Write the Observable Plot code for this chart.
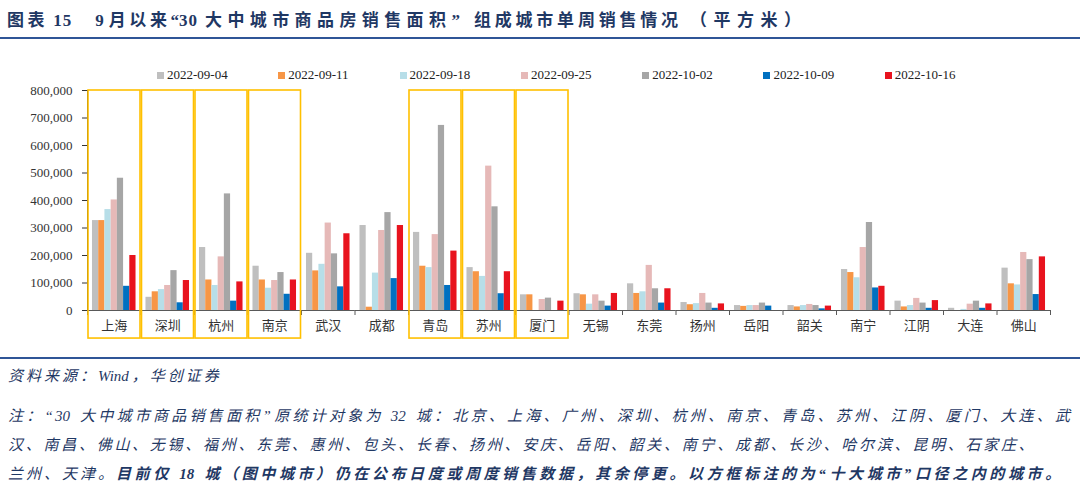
<!DOCTYPE html>
<html><head><meta charset="utf-8">
<script src="https://cdn.jsdelivr.net/npm/d3@7"></script>
<script src="https://cdn.jsdelivr.net/npm/@observablehq/plot@0.6"></script>
<style>
body{margin:0;background:#fff;width:1080px;height:498px;overflow:hidden;position:relative;font-family:"Liberation Serif","Noto Sans CJK SC",serif;}
#title{position:absolute;left:7px;top:6px;font-size:17px;font-weight:bold;color:#1F3864;white-space:nowrap;letter-spacing:3.6px}
.rule{position:absolute;left:0;width:1080px;height:2px;background:#2F5597}
#chart{position:absolute;left:0;top:40px}
#legend{position:absolute;left:157px;top:67px;display:flex}
.item{width:121.3px;display:flex;align-items:center;font-size:13px;color:#222;white-space:nowrap}
.sw{width:7px;height:7px;margin-right:3px;flex:none}
.note{position:absolute;left:8px;font-style:italic;color:#1F3864;font-size:15px;letter-spacing:3px;white-space:nowrap;line-height:20px}
.lat{letter-spacing:0;margin-right:3px}
</style></head>
<body>
<div id="title">图表<span style="margin-left:5px;letter-spacing:1px;margin-right:5px">15</span><span style="margin-left:18px;letter-spacing:0;margin-right:5px">9</span>月以来<span style="letter-spacing:0">“</span><span style="letter-spacing:1px;margin-right:7px">30</span><span style="letter-spacing:5.4px">大中城市商品房销售面积</span><span style="letter-spacing:0;margin-right:14px">”</span><span style="letter-spacing:3.8px">组成城市单周销售情况</span><span style="margin-left:8px;letter-spacing:6.5px">（平方米）</span></div>
<div class="rule" style="top:37px"></div>
<div id="chart"></div>
<div id="legend"></div>
<div class="rule" style="top:357px"></div>
<div class="note" style="top:366px">资料来源：<span class="lat">Wind</span>，华创证券</div>
<div class="note" style="top:406px;width:1064px;white-space:normal;text-align:justify;text-align-last:justify;letter-spacing:2px">注：“<span class="lat">30</span> 大中城市商品销售面积”原统计对象为 <span class="lat">32</span> 城：北京、上海、广州、深圳、杭州、南京、青岛、苏州、江阴、厦门、大连、武</div>
<div class="note" style="top:435px;letter-spacing:2.73px">汉、南昌、佛山、无锡、福州、东莞、惠州、包头、长春、扬州、安庆、岳阳、韶关、南宁、成都、长沙、哈尔滨、昆明、石家庄、</div>
<div class="note" style="top:464px">兰州、天津。<b style="letter-spacing:3.6px">目前仅 <span class="lat">18</span> 城（图中城市）仍在公布日度或周度销售数据，其余停更。以方框标注的为“十大城市”口径之内的城市。</b></div>
<script>
const cities = ["上海","深圳","杭州","南京","武汉","成都","青岛","苏州","厦门","无锡","东莞","扬州","岳阳","韶关","南宁","江阴","大连","佛山"];
const weeks = ["2022-09-04","2022-09-11","2022-09-18","2022-09-25","2022-10-02","2022-10-09","2022-10-16"];
const weekColors = ["#BFBFBF","#F79646","#B7DEE8","#E6B9B8","#A6A6A6","#0070C0","#E8131E"];
const boxedCities = ["上海","深圳","杭州","南京","青岛","苏州","厦门"];
const yTicks = [0,100000,200000,300000,400000,500000,600000,700000,800000];

const w0904 = [327000,48000,229000,161000,208000,309000,284000,156000,57000,61000,97000,29000,18000,18000,149000,34000,8000,154000];
const w0911 = [327000,68000,111000,111000,144000,12000,161000,141000,57000,57000,62000,21000,15000,13000,138000,13000,null,97000];
const w0918 = [367000,76000,91000,81000,168000,136000,156000,124000,null,23000,68000,25000,18000,18000,119000,18000,4000,93000];
const w0925 = [402000,91000,195000,109000,318000,291000,276000,525000,40000,57000,164000,62000,18000,22000,229000,44000,23000,211000];
const w1002 = [481000,145000,424000,138000,206000,356000,673000,377000,45000,34000,79000,27000,27000,18000,320000,27000,34000,185000];
const w1009 = [88000,28000,34000,59000,86000,116000,91000,61000,null,16000,27000,8000,16000,6000,82000,8000,8000,58000];
const w1016 = [200000,109000,104000,111000,279000,309000,216000,141000,34000,62000,79000,24000,null,16000,88000,36000,24000,195000];
const series = [w0904,w0911,w0918,w0925,w1002,w1009,w1016];

const data = [];
series.forEach((vals, j) => vals.forEach((v, i) => {
  if (v != null) data.push({city: cities[i], week: weeks[j], value: v});
}));

const W = 1080, mL = 87, mR = 30;
const padOuter = 0.8;
const facetW = (W - mL - mR) / cities.length;
const step = facetW / (weeks.length + 2 * padOuter);
const edge = (padOuter + 0.5) * step;
const axisColor = "#595959";

const chart = Plot.plot({
  width: W, height: 318,
  marginLeft: mL, marginRight: mR, marginTop: 50, marginBottom: 48,
  style: {fontFamily: "'Liberation Serif','Noto Sans CJK SC',serif", fontSize: "13px", color: "#333", background: "white"},
  fx: {domain: cities, padding: 0, round: false, axis: "bottom", tickSize: 0, tickPadding: 10, label: null},
  x: {domain: weeks, paddingInner: 0, paddingOuter: padOuter, round: false, axis: null},
  y: {domain: [0, 800000], ticks: yTicks, tickFormat: d3.format(","), tickSize: 5, tickPadding: 10, line: true, label: null},
  color: {domain: weeks, range: weekColors},
  marks: [
    Plot.barY(data, {fx: "city", x: "week", y: "value", fill: "week"}),
    Plot.ruleY([0], {stroke: axisColor}),
    Plot.ruleX(cities, {fx: d => d, x: () => weeks[0], y1: 0, y2: 0, insetBottom: -5, dx: -edge, stroke: axisColor}),
    Plot.ruleX([cities[cities.length - 1]], {fx: d => d, x: () => weeks[weeks.length - 1], y1: 0, y2: 0, insetBottom: -5, dx: edge, stroke: axisColor}),
    Plot.barY(boxedCities, {fx: d => d, y1: -102000, y2: 800000, fill: "none", stroke: "#FFC000", strokeWidth: 1.6, insetLeft: 1, insetRight: 0.5})
  ]
});
document.getElementById("chart").appendChild(chart);

const legend = document.getElementById("legend");
weeks.forEach((w, i) => {
  const item = document.createElement("div");
  item.className = "item";
  const sw = document.createElement("span");
  sw.className = "sw";
  sw.style.background = weekColors[i];
  item.appendChild(sw);
  item.appendChild(document.createTextNode(w));
  legend.appendChild(item);
});
</script>
</body></html>
